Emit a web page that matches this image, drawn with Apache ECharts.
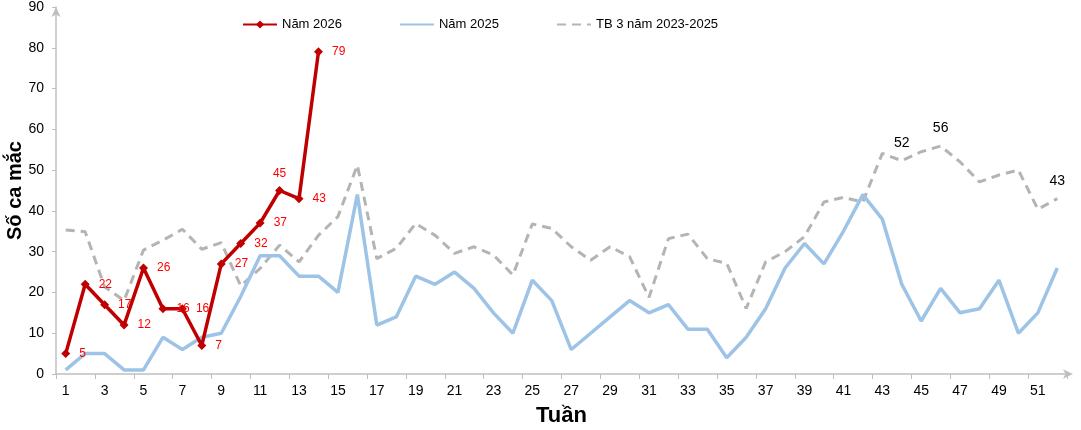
<!DOCTYPE html>
<html>
<head>
<meta charset="utf-8">
<script src="https://cdn.jsdelivr.net/npm/echarts@6/dist/echarts.min.js"></script>
<style>
  html, body { margin: 0; padding: 0; background: #fff; }
  #chart { width: 1081px; height: 430px; }
</style>
</head>
<body>
<div id="chart"></div>
<script>
// tuần 1..52
const weeks = Array.from({ length: 52 }, (_, i) => String(i + 1));

// Năm 2026 (đến tuần 14)
const y2026 = [5, 22, 17, 12, 26, 16, 16, 7, 27, 32, 37, 45, 43, 79];

// Năm 2025
const y2025 = [1, 5, 5, 1, 1, 9, 6, 9, 10, 19, 29, 29, 24, 24, 20, 44, 12, 14, 24, 22,
  25, 21, 15, 10, 23, 18, 6, 10, 14, 18, 15, 17, 11, 11, 4, 9, 16, 26, 32, 27,
  35, 44, 38, 22, 13, 21, 15, 16, 23, 10, 15, 26];

// TB 3 năm 2023-2025
const avg3 = [35.3, 34.9, 21.4, 18, 30.4, 32.8, 35.5, 30.6, 32.2, 21.6, 25.9, 31.6, 27.5, 34, 38.6, 51.2,
  28.3, 30.8, 36.9, 34, 29.6, 31.2, 29.2, 24.3, 36.8, 35.7, 31.2, 27.9, 31.2, 28.8, 18.8, 33.2,
  34.3, 28.3, 27.1, 16.1, 27.5, 30, 33.7, 42.2, 43.3, 42.2, 54.1, 52.3, 54.5, 55.9, 52, 47.1,
  48.8, 50, 40.4, 43];
// nhãn hiển thị trên đường TB
const avgLabels = { 43: 52, 45: 56, 51: 43 };

const chart = echarts.init(document.getElementById("chart"));

const font = "'Liberation Sans', Arial, sans-serif";
const axisGray = "#bfbfbf";

chart.setOption({
  animation: false,
  textStyle: { fontFamily: font },
  grid: { left: 56, right: 14, top: 7, bottom: 56, outerBoundsMode: "none", containLabel: false },
  legend: {
    left: 237,
    top: 13,
    itemWidth: 34,
    itemHeight: 10,
    itemGap: 57,
    textStyle: { fontSize: 13, color: "#000", fontFamily: font },
    data: ["Năm 2026", "Năm 2025", "TB 3 năm 2023-2025"],
  },
  xAxis: {
    type: "category",
    data: weeks,
    boundaryGap: true,
    name: "Tuần",
    nameLocation: "middle",
    nameGap: 31,
    nameMoveOverlap: false,
    nameTextStyle: { fontSize: 22, fontWeight: "bold", color: "#000" },
    axisLine: {
      lineStyle: { color: axisGray, width: 1.5 },
      symbol: ["none", "arrow"],
      symbolSize: [7, 10],
      symbolOffset: [0, 6],
    },
    axisTick: { show: true, length: 5, lineStyle: { color: axisGray } },
    axisLabel: { interval: 1, fontSize: 14, color: "#000", margin: 10 },
  },
  yAxis: {
    type: "value",
    min: 0,
    max: 90,
    interval: 10,
    name: "Số ca mắc",
    nameLocation: "middle",
    nameGap: 31,
    nameMoveOverlap: false,
    nameTextStyle: { fontSize: 20, fontWeight: "bold", color: "#000" },
    axisLine: {
      show: true,
      lineStyle: { color: axisGray, width: 1.5 },
      symbol: ["none", "arrow"],
      symbolSize: [7, 10],
    },
    axisTick: { show: true, length: 4, lineStyle: { color: axisGray } },
    splitLine: { show: false },
    axisLabel: { fontSize: 14, color: "#000", margin: 12 },
  },
  series: [
    {
      name: "TB 3 năm 2023-2025",
      type: "line",
      data: avg3.map((v, i) =>
        avgLabels[i] !== undefined
          ? { value: v, label: { show: true, formatter: String(avgLabels[i]) } }
          : v
      ),
      symbol: "circle",
      symbolSize: 2,
      showSymbol: true,
      itemStyle: { color: "rgba(0,0,0,0)" },
      lineStyle: { color: "#b4b4b4", width: 3, type: [9, 6] },
      label: {
        show: false,
        position: "top",
        distance: 10,
        fontSize: 14,
        color: "#000",
      },
      z: 1,
    },
    {
      name: "Năm 2025",
      type: "line",
      data: y2025,
      symbol: "none",
      lineStyle: { color: "#9dc3e6", width: 3.5 },
      itemStyle: { color: "rgba(0,0,0,0)" },
      z: 2,
    },
    {
      name: "Năm 2026",
      type: "line",
      data: y2026.map((v, i) => (i === 11 ? { value: v, label: { position: "top", distance: 6 } } : v)),
      symbol: "diamond",
      symbolSize: 9,
      lineStyle: { color: "#c00000", width: 3.5 },
      itemStyle: { color: "#c00000" },
      label: {
        show: true,
        position: "right",
        distance: 9,
        fontSize: 12,
        color: "#ff0000",
      },
      z: 3,
    },
  ],
});
</script>
</body>
</html>
